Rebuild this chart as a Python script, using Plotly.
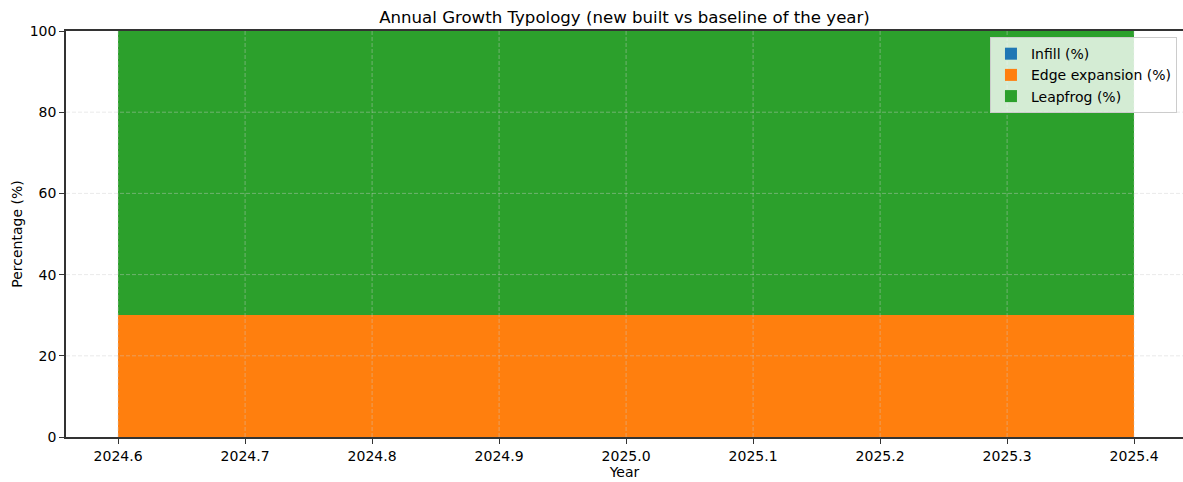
import plotly.graph_objects as go

years = [2025]
infill = [0.0]
edge = [30.0]
leapfrog = [70.0]
series_names = ["Infill (%)", "Edge expansion (%)", "Leapfrog (%)"]
colors = ["#1f77b4", "#ff7f0e", "#2ca02c"]
x_ticks = [2024.6, 2024.7, 2024.8, 2024.9, 2025.0, 2025.1, 2025.2, 2025.3, 2025.4]
y_ticks = [0, 20, 40, 60, 80, 100]

fig = go.Figure()
for name, vals, c in zip(series_names, [infill, edge, leapfrog], colors):
    fig.add_trace(go.Bar(x=years, y=vals, name=name, width=0.8,
                         marker=dict(color=c, line=dict(width=0))))

grid = "rgba(205,205,205,0.42)"
# dashed grid drawn above the bars (matplotlib style)
for yv in y_ticks[1:-1]:
    fig.add_shape(type="line", xref="paper", x0=0, x1=1, yref="y", y0=yv, y1=yv,
                  line=dict(color=grid, width=1, dash="4px,2px"), layer="above")
for xv in x_ticks:
    fig.add_shape(type="line", xref="x", x0=xv, x1=xv, yref="paper", y0=0, y1=1,
                  line=dict(color=grid, width=1, dash="4px,2px"), layer="above")

fig.update_layout(
    barmode="stack",
    width=1183, height=482,
    margin=dict(l=66, r=0, t=31, b=45),
    paper_bgcolor="white", plot_bgcolor="white",
    font=dict(family="DejaVu Sans", size=14, color="black"),
    title=dict(text="Annual Growth Typology (new built vs baseline of the year)",
               x=0.5, xref="paper", y=0.965, yref="container",
               xanchor="center", yanchor="middle",
               font=dict(size=16.6, color="black")),
    legend=dict(x=0.9946, y=0.985, xanchor="right", yanchor="top",
                bgcolor="rgba(255,255,255,0.8)", bordercolor="#cccccc", borderwidth=1,
                font=dict(size=14), tracegroupgap=0, traceorder="normal",
                itemwidth=30),
    bargap=0,
    showlegend=True,
)
fig.update_xaxes(
    range=[2024.559, 2025.4385], tickvals=x_ticks,
    ticktext=[f"{v:.1f}" for v in x_ticks],
    showline=True, linecolor="#333333", linewidth=1.5, mirror=True,
    ticks="outside", ticklen=5, tickcolor="#333333",
    showgrid=False, zeroline=False, layer="above traces", automargin=False,
    title=dict(text="Year", font=dict(size=14), standoff=5),
)
fig.update_yaxes(
    range=[0, 100], tickvals=y_ticks,
    showline=True, linecolor="#333333", linewidth=1.5, mirror=False,
    ticks="outside", ticklen=5, tickcolor="#333333",
    showgrid=False, zeroline=False, layer="above traces", automargin=False,
    title=dict(text="Percentage (%)", font=dict(size=14), standoff=4),
)
fig.write_html("out.html", config={"displayModeBar": False},
               post_script="document.body.style.margin='0px';document.body.style.overflow='hidden';")
